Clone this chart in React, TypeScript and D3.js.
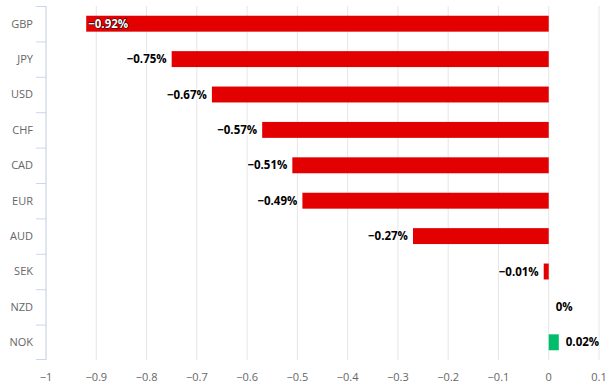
import * as d3 from "d3";

const currencies = ["GBP", "JPY", "USD", "CHF", "CAD", "EUR", "AUD", "SEK", "NZD", "NOK"];
const changes = [-0.92, -0.75, -0.67, -0.57, -0.51, -0.49, -0.27, -0.01, 0, 0.02];
const xTicks = [-1, -0.9, -0.8, -0.7, -0.6, -0.5, -0.4, -0.3, -0.2, -0.1, 0, 0.1];

const W = 615;
const H = 386;
const M = { top: 6, right: 16, bottom: 26, left: 46 };
const FONT = "'Open Sans', 'DejaVu Sans', sans-serif";

const fmt = (v: number) => (v < 0 ? "\u2212" : "") + Math.abs(v) + "%";
const tickFmt = (v: number) => {
  const s = d3.format("~g")(Math.abs(v));
  return (v < 0 ? "\u2212" : "") + s;
};

export default function App() {
  const x = d3.scaleLinear().domain([-1, 0.1]).range([M.left, W - M.right]);
  const y = d3
    .scaleBand<string>()
    .domain(currencies)
    .range([M.top, H - M.bottom])
    .paddingInner(0.55)
    .paddingOuter(0.275);
  const step = y.step();
  const bandTop = (c: string) => M.top + currencies.indexOf(c) * step;

  return (
    <svg
      width={W}
      height={H}
      style={{ position: "absolute", left: 0, top: 0, fontFamily: FONT }}
    >
      <rect width={W} height={H} fill="#fff" />
      {/* vertical grid */}
      {xTicks.map((t) => (
        <line
          key={t}
          x1={x(t)}
          x2={x(t)}
          y1={M.top}
          y2={H - M.bottom}
          stroke="#e6e6e6"
        />
      ))}
      {/* category axis */}
      <line x1={M.left} x2={M.left} y1={M.top} y2={H - M.bottom} stroke="#ccd6eb" />
      {currencies.map((c) => (
        <line
          key={"t" + c}
          x1={M.left - 10}
          x2={M.left}
          y1={bandTop(c) + 0.5}
          y2={bandTop(c) + 0.5}
          stroke="#ccd6eb"
        />
      ))}
      <line
        x1={M.left - 10}
        x2={M.left}
        y1={H - M.bottom - 0.5}
        y2={H - M.bottom - 0.5}
        stroke="#ccd6eb"
      />
      {currencies.map((c) => (
        <text
          key={"l" + c}
          x={33}
          y={bandTop(c) + step / 2}
          dy="0.35em"
          textAnchor="end"
          fontSize={11}
          fill="#666"
        >
          {c}
        </text>
      ))}
      {/* x tick labels */}
      {xTicks.map((t) => (
        <text
          key={"x" + t}
          x={x(t)}
          y={H - 5}
          textAnchor="middle"
          fontSize={11}
          fill="#666"
        >
          {tickFmt(t)}
        </text>
      ))}
      {/* bars */}
      {currencies.map((c, i) => {
        const v = changes[i];
        const x0 = Math.min(x(0), x(v));
        const w = Math.abs(x(v) - x(0));
        return (
          <rect
            key={"b" + c}
            x={x0}
            y={y(c)}
            width={w}
            height={y.bandwidth()}
            fill={v < 0 ? "#e30000" : "#00bd6c"}
          />
        );
      })}
      {/* data labels */}
      {currencies.map((c, i) => {
        const v = changes[i];
        const cy = (y(c) ?? 0) + y.bandwidth() / 2;
        const inside = v < 0 && x(v) - 45 < M.left;
        const lx = inside ? x(v) + 2 : v < 0 ? x(v) - 5 : x(v) + 7;
        const anchor = inside || v >= 0 ? "start" : "end";
        return (
          <text
            key={"d" + c}
            x={lx}
            y={cy}
            dy="0.35em"
            textAnchor={anchor}
            fontSize={11.5}
            fontWeight="bold"
            fill={inside ? "#fff" : "#000"}
            stroke={inside ? "#000" : "#fff"}
            strokeWidth={inside ? 1 : 2}
            style={{ paintOrder: "stroke" }}
          >
            {fmt(v)}
          </text>
        );
      })}
    </svg>
  );
}
